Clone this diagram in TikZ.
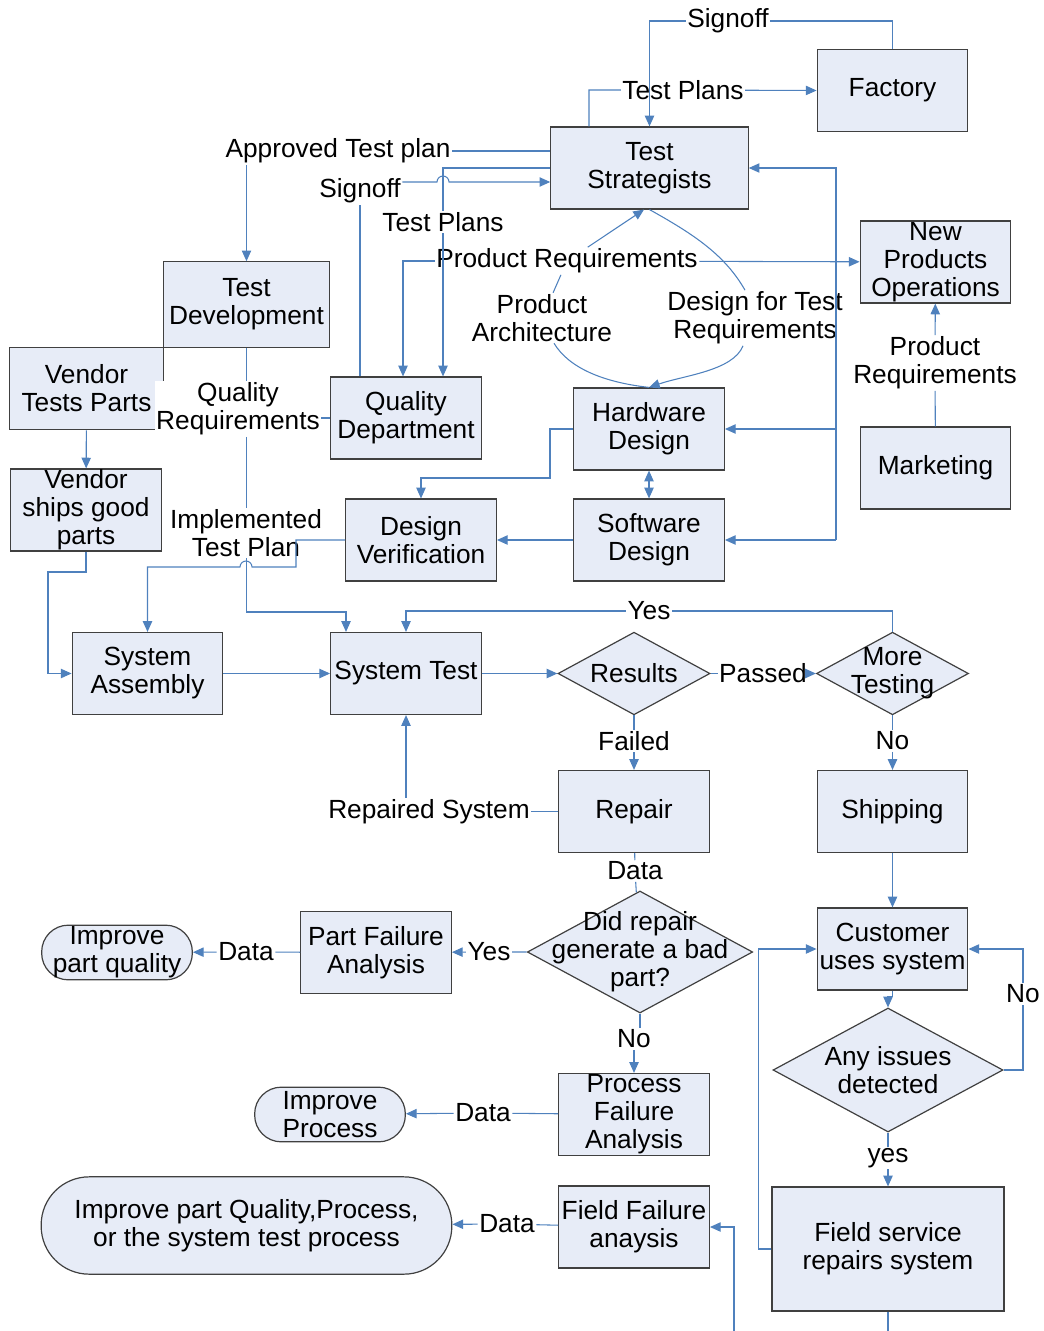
\documentclass[tikz,border=0pt]{standalone}
\usepackage{fontspec}
\setmainfont{Liberation Sans}
\usetikzlibrary{shapes.geometric,arrows.meta}
\definecolor{boxfill}{RGB}{231,236,247}
\definecolor{boxline}{RGB}{64,64,64}
\definecolor{wireblue}{RGB}{79,129,189}
\tikzset{
  box/.style={rectangle, draw=boxline, fill=boxfill, line width=0.9pt, inner sep=0pt, align=center, minimum width=113pt, minimum height=61.5pt},
  dec/.style={diamond, draw=boxline, fill=boxfill, line width=0.9pt, inner sep=0pt, minimum width=114pt, minimum height=62pt},
  term/.style={box, rounded corners=20pt, minimum height=41pt},
  lbl/.style={inner sep=1pt, align=center},
  wire/.style={draw=wireblue, line width=0.8pt},
  conn/.style={wire, -{Triangle[length=8pt,width=7pt]}},
  conns/.style={wire, {Triangle[length=8pt,width=7pt]}-{Triangle[length=8pt,width=7pt]}},
}
\begin{document}
\begin{tikzpicture}[x=0.75pt, y=-0.75pt, font=\fontsize{19.7}{21}\selectfont]
\useasboundingbox (0,0) rectangle (1044,1331);
\node[box] (fac) at (892.5,90.5) {Factory};
\node[box, minimum width=148pt] (ts) at (649.5,168) {Test\\Strategists};
\node[box] (npo) at (935.5,262) {New\\Products\\Operations};
\node[box, minimum width=125pt, minimum height=64pt] (td) at (246.5,304.5) {Test\\Development};
\node[box, minimum width=115pt, minimum height=62pt] (vtp) at (86.5,388.5) {Vendor\\Tests Parts};
\node[box] (qd) at (406,418) {Quality\\Department};
\node[box] (hd) at (649,429) {Hardware\\Design};
\node[box] (mkt) at (935.5,468) {Marketing};
\node[box] (vsp) at (86,510) {Vendor\\ships good\\parts};
\node[box] (dv) at (421,540) {Design\\Verification};
\node[box] (sd) at (649,540) {Software\\Design};
\node[box] (sa) at (147.5,673.5) {System\\Assembly};
\node[box] (st) at (406,673.5) {System Test};
\node[dec, label={[lbl]center:Results}] (res) at (634,673.5) {};
\node[dec, label={[lbl]center:More\\Testing}] (mor) at (892.5,673.5) {};
\node[box] (rep) at (634,811.5) {Repair};
\node[box] (shp) at (892.5,811.5) {Shipping};
\node[dec, minimum width=169pt, minimum height=91.5pt, label={[lbl]center:Did repair\\generate a bad\\part?}] (drp) at (640,952) {};
\node[box] (pfa) at (376,952.5) {Part Failure\\Analysis};
\node[term] (ipq) at (117,952.5) {Improve\\part quality};
\node[box] (prfa) at (634,1114.5) {Process\\Failure\\Analysis};
\node[term] (ipr) at (330,1114.5) {Improve\\Process};
\node[box] (ffa) at (634,1227) {Field Failure\\anaysis};
\node[term, minimum width=308pt, minimum height=73pt, rounded corners=36pt] (ipall) at (246.5,1225.5) {Improve part Quality,Process,\\or the system test process};
\node[box] (cus) at (892.5,949) {Customer\\uses system};
\node[dec, minimum width=172.5pt, minimum height=93pt, label={[lbl]center:Any issues\\detected}] (any) at (888,1070) {};
\node[box, minimum width=174pt, minimum height=93pt] (fsr) at (888,1249) {Field service\\repairs system};
\node[lbl] (sg1) at (728,21) {Signoff};
\node[lbl] (tp1) at (683,90) {Test Plans};
\node[lbl] (atp) at (338,151) {Approved Test plan};
\node[lbl] (sg2) at (360,191) {Signoff};
\node[lbl] (tp2) at (443,222) {Test Plans};
\node[lbl] (pr1) at (567,261) {Product Requirements};
\node[lbl] (pa) at (542,318) {Product\\Architecture};
\node[lbl] (dft) at (755,318) {Design for Test\\Requirements};
\node[lbl] (pr2) at (935,363) {Product\\Requirements};
\node[lbl, fill=white] (qr) at (238,409) {Quality\\Requirements};
\node[lbl] (itp) at (246,533) {Implemented\\Test Plan};
\node[lbl] (yes1) at (649,611) {Yes};
\node[lbl] (pas) at (763,673.5) {Passed};
\node[lbl] (fai) at (634,741) {Failed};
\node[lbl] (no1) at (892.5,741) {No};
\node[lbl] (rs) at (429,811.5) {Repaired System};
\node[lbl] (dat1) at (635,871) {Data};
\node[lbl] (yes2) at (489,952) {Yes};
\node[lbl] (dat2) at (246,952) {Data};
\node[lbl] (no2) at (634,1039) {No};
\node[lbl] (dat3) at (483,1113) {Data};
\node[lbl] (dat4) at (507,1224) {Data};
\node[lbl] (no3) at (1023,994) {No};
\node[lbl] (yes3) at (888,1158) {yes};
\draw[wire] (fac.north) |- (sg1);
\draw[conn] (sg1) -| (ts.north);
\draw[conn] (ts.north -| 589,0) |- (tp1) -- (fac.west);
\draw[wire] (ts.west |- atp) -- (atp);
\draw[conn] (atp.south -| td.north) -- (td.north);
\draw[wire] (qd.north -| sg2) -- (sg2);
\draw[conn] (sg2.east |- 0,182) -- (437,182) arc[start angle=180, end angle=360, radius=6] -- (ts.west |- 0,182);
\draw[wire] (ts.west) -| (tp2);
\draw[conn] (tp2) -- (qd.north -| tp2);
\draw[conn] (pr1) -| (qd.north -| 403,0);
\draw[conn] (pr1) -- (npo);
\draw[wire] (hd.north) .. controls +(-45,-5) and +(15,25) .. (pa.south -| 554,0);
\draw[conn] (pa) -- (pr1) -- (ts.south -| 644,0);
\draw[wire] (ts.south) .. controls +(45,25) and +(-20,-35) .. (dft.north -| 745,0);
\draw[conn] (dft.south -| 743,0) .. controls +(-10,25) and +(35,-12) .. (hd.north);
\coordinate (bus) at (836,540);
\draw[conn] (bus) |- (ts.east);
\draw[conn] (bus |- hd.east) -- (hd.east);
\draw[conn] (bus) -- (sd.east);
\draw[conns] (hd) -- (sd);
\draw[conn] (hd.west) -| (550,478) -| (dv.north);
\draw[conn] (sd) -- (dv);
\draw[conn] (mkt) -- (pr2) -- (npo);
\draw[conn] (vtp) -- (vsp);
\draw[wire] (qd.west) -- (qd.west -| qr.east);
\draw[wire] (td.south) -- (td.south |- qr.north);
\draw[wire] (td.south |- qr.south) -- (td.south |- itp.north);
\draw[conn] (td.south |- itp.south) |- (346,612) -- (st.north -| 346,0);
\draw[conn] (dv.west) -| (296,567) -- (252,567) arc[start angle=0, end angle=-180, radius=6] -| (sa.north);
\draw[conn] (vsp.south) |- (48,572) |- (sa.west);
\draw[conn] (sa) -- (st);
\draw[conn] (st) -- (res);
\draw[conn] (res) -- (pas) -- (mor);
\draw[conn] (res) -- (fai) -- (rep);
\draw[conn] (mor) -- (no1) -- (shp);
\draw[conn] (mor.north) |- (yes1) -| (st.north -| 406,0);
\draw[wire] (rep) -- (rs);
\draw[conn] (rs.north -| 406,0) -- (st.south -| 406,0);
\draw[wire] (rep) -- (dat1) -- (drp);
\draw[conn] (drp) -- (yes2) -- (pfa);
\draw[conn] (pfa) -- (dat2) -- (ipq);
\draw[wire] (drp.south) -- (drp.south |- no2.north);
\draw[conn] (no2) -- (prfa);
\draw[conn] (prfa) -- (dat3) -- (ipr);
\draw[conn] (ffa) -- (dat4) -- (ipall);
\coordinate (ffin) at (734,1331);
\draw[conn] (ffin) |- (ffa.east);
\draw[conn] (shp) -- (cus);
\draw[conn] (cus.south) -- ++(0,6) -| (any.north);
\draw[conn] (any.east) -| (no3) |- (cus.east);
\draw[conn] (any) -- (yes3) -- (fsr);
\draw[conn] (fsr.west) -- ++(-13,0) |- (cus.west);
\coordinate (fsout) at (888,1331);
\draw[wire] (fsr) -- (fsout);
\end{tikzpicture}
\end{document}
